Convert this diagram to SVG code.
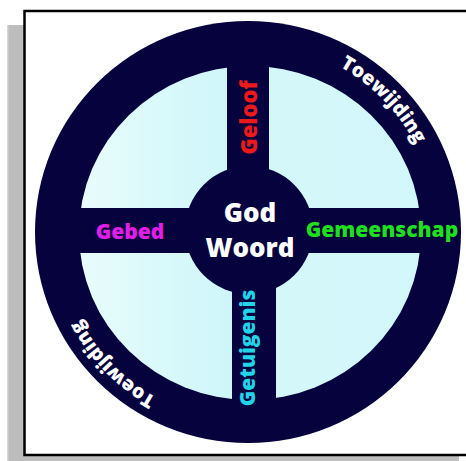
<svg xmlns="http://www.w3.org/2000/svg" width="466" height="461" viewBox="0 0 466 461">
  <defs>
    <linearGradient id="quad" x1="0" y1="0" x2="1" y2="0">
      <stop offset="0" stop-color="#e8fcfc"/>
      <stop offset="0.45" stop-color="#cdf6f9"/>
      <stop offset="0.55" stop-color="#d4f8fa"/>
      <stop offset="1" stop-color="#d2f7fa"/>
    </linearGradient>
    <path id="arc" d="M 248,43 A 189 189 0 1 1 248,421 A 189 189 0 1 1 248,43"/>
    <style>
      .dark { fill: #05023e; }
      .lbl { font-family: "Open Sans", "Liberation Sans", sans-serif; font-weight: 800; }
      .ring-lbl { font-family: "Open Sans", "Liberation Sans", sans-serif; font-weight: 800; font-size: 19.5px; fill: #ffffff; }
    </style>
  </defs>

  <rect x="0" y="0" width="466" height="461" fill="#ffffff"/>
  <g id="frame">
    <rect x="7" y="25" width="18" height="436" fill="#bdbdbd"/>
    <rect x="7" y="455" width="452" height="6" fill="#bdbdbd"/>
    <rect x="7" y="25" width="1.5" height="436" fill="#d6d6d6"/>
    <rect x="24.5" y="11" width="450" height="444" fill="#ffffff" stroke="#000000" stroke-width="2.5"/>
  </g>

  <g id="ring">
    <ellipse class="dark" cx="248" cy="232" rx="213" ry="211"/>
  </g>
  <g id="quadrants">
    <ellipse cx="250" cy="233" rx="171" ry="167" fill="url(#quad)"/>
  </g>
  <g id="spokes">
    <rect class="dark" x="227" y="55" width="42" height="176"/>
    <rect class="dark" x="232" y="231" width="44" height="180"/>
    <rect class="dark" x="70" y="208" width="360" height="45"/>
  </g>
  <g id="hub">
    <circle class="dark" cx="249" cy="230" r="64"/>
    <text class="lbl" x="250" y="222" font-size="26" fill="#ffffff" text-anchor="middle">God</text>
    <text class="lbl" x="250" y="257" font-size="26" fill="#ffffff" text-anchor="middle">Woord</text>
  </g>
  <g id="geloof">
    <text class="lbl" transform="translate(257,117.5) rotate(-90)" x="0" y="0" font-size="22" fill="#ec1a1a" text-anchor="middle">Geloof</text>
  </g>
  <g id="gemeenschap">
    <text class="lbl" x="382" y="237" font-size="21" fill="#1fdf1f" text-anchor="middle">Gemeenschap</text>
  </g>
  <g id="gebed">
    <text class="lbl" x="130" y="239" font-size="21" fill="#e01ee6" text-anchor="middle">Gebed</text>
  </g>
  <g id="getuigenis">
    <text class="lbl" transform="translate(255,348) rotate(-90)" x="0" y="0" font-size="21" fill="#22d4e8" text-anchor="middle">Getuigenis</text>
  </g>
  <g id="toewijding-top">
    <text class="ring-lbl" text-anchor="middle"><textPath href="#arc" startOffset="12.7%">Toewijding</textPath></text>
  </g>
  <g id="toewijding-bottom">
    <text class="ring-lbl" text-anchor="middle"><textPath href="#arc" startOffset="62.7%">Toewijding</textPath></text>
  </g>
</svg>
